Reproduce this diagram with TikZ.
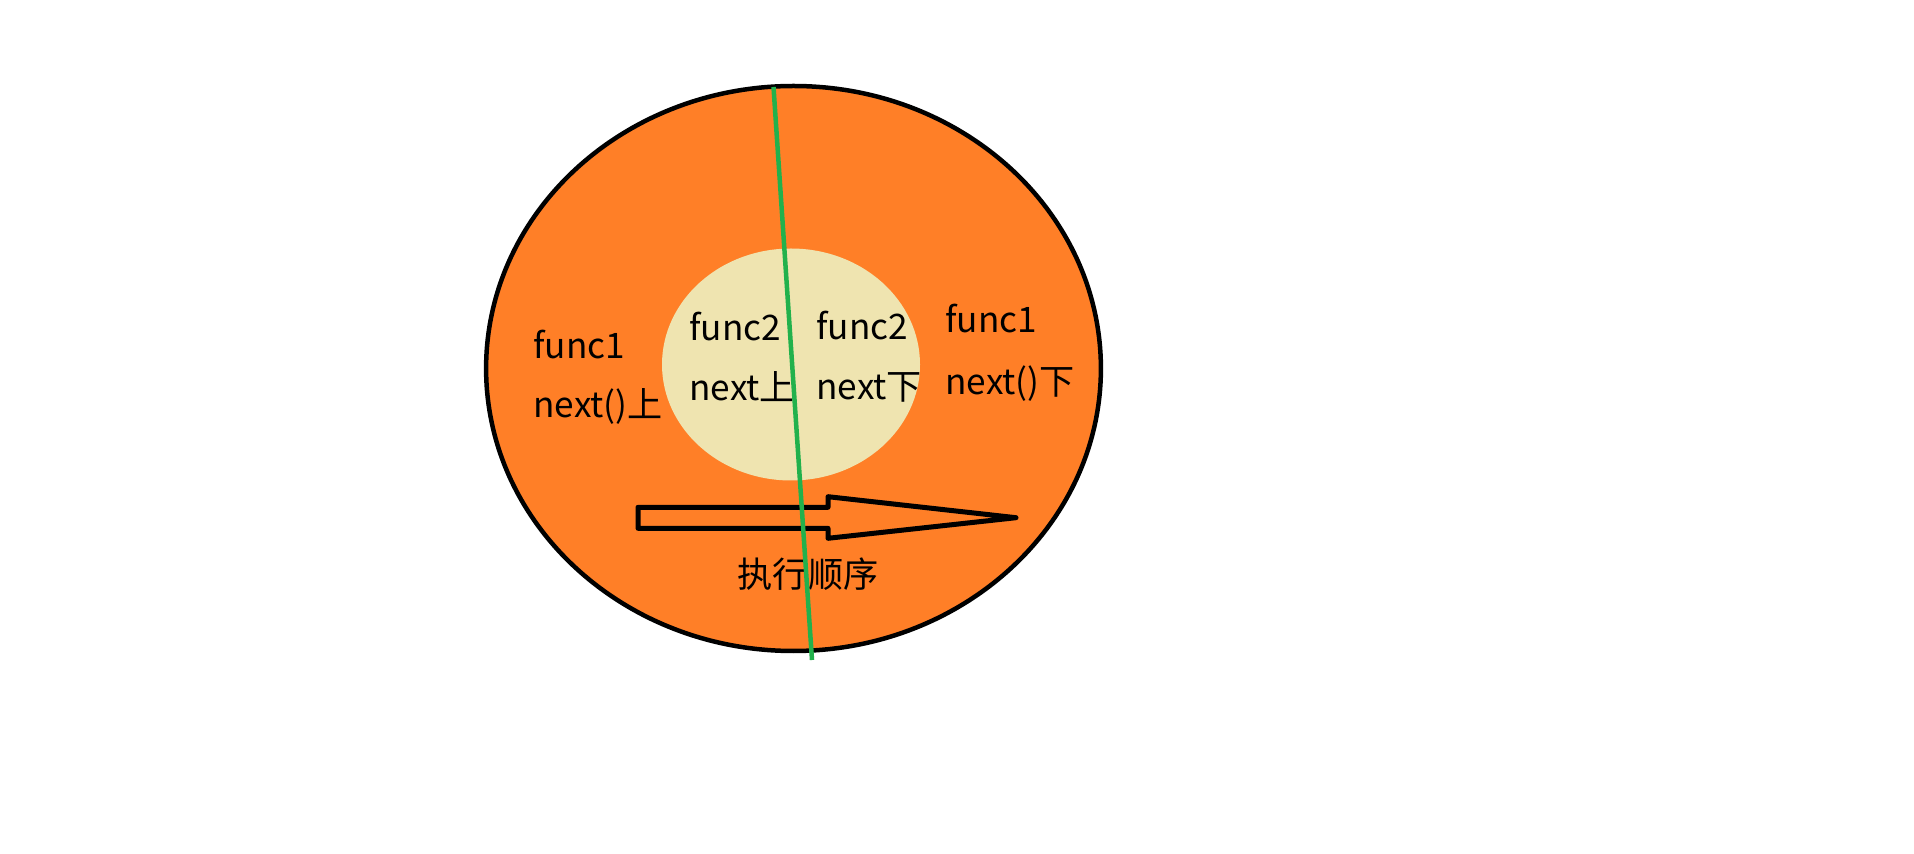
\documentclass[tikz,border=0pt]{standalone}
\usepackage{fontspec}
\setmainfont{Noto Sans CJK SC}
\usepackage{xcolor}
\usepackage{tikz}
\usetikzlibrary{positioning}
\definecolor{paintorange}{HTML}{FF7F27}
\definecolor{paintbeige}{HTML}{EFE4B0}
\definecolor{paintgreen}{HTML}{22B14C}

\begin{document}
\begin{tikzpicture}[
  x=0.02cm, y=-0.02cm,
  txt/.style={inner sep=0pt, anchor=base west, font=\fontsize{20}{24}\selectfont},
  outline/.style={draw=black, line width=4.5*0.02cm}
]
  \useasboundingbox (0,0) rectangle (1914,854);
  \fill[white] (0,0) rectangle (1914,854);

  \filldraw[outline, fill=paintorange] (793.5,368.5) ellipse [x radius=307.4, y radius=282.5];
  \fill[paintbeige] (791,364.5) ellipse [x radius=129, y radius=116];

  \node[txt] (f1a) at (533,359) {func1};
  \node[txt] (n1a) at (533,418) {next()上};
  \node[txt] (f2a) at (689,341) {func2};
  \node[txt] (n2a) at (689,401) {next上};
  \node[txt] (f2b) at (816,340) {func2};
  \node[txt] (n2b) at (816,400) {next下};
  \node[txt] (f1b) at (945,333) {func1};
  \node[txt] (n1b) at (945,395) {next()下};
  \node[txt, anchor=center] (order) at (808,574) {执行顺序};

  \draw[outline, line width=5*0.02cm, line join=round]
    (638,507.3) -- (828,507.3) -- (828,496.7) -- (1016,517.7)
    -- (828,538.3) -- (828,528.3) -- (638,528.3) -- cycle;

  \draw[paintgreen, line width=4.5*0.02cm] (773.5,87) -- (812,660);
\end{tikzpicture}
\end{document}
